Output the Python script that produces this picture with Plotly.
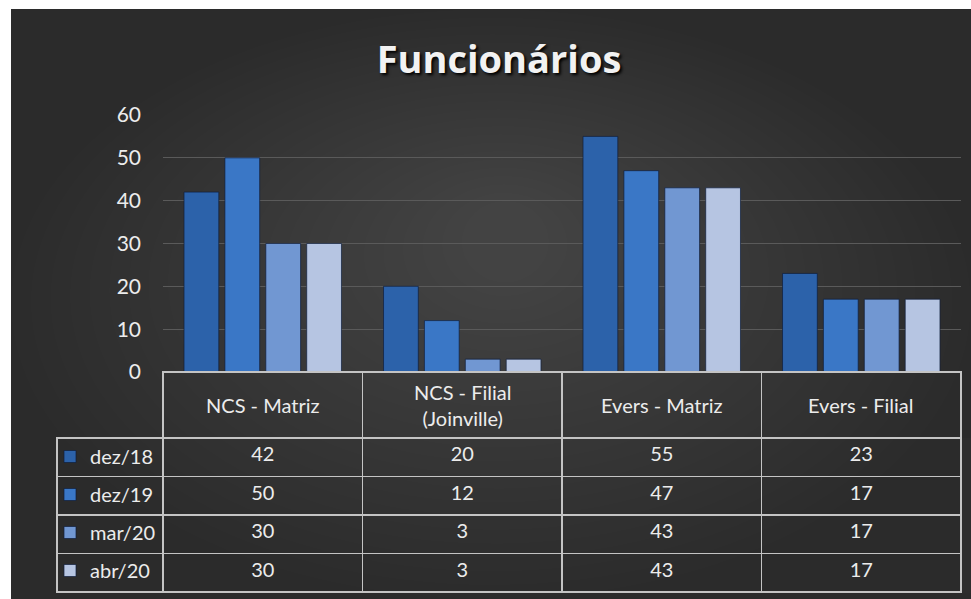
import plotly.graph_objects as go

# data
categories = ['NCS - Matriz', 'NCS - Filial<br>(Joinville)', 'Evers - Matriz', 'Evers - Filial']
periods = ['dez/18', 'dez/19', 'mar/20', 'abr/20']
dez18 = [42, 20, 55, 23]
dez19 = [50, 12, 47, 17]
mar20 = [30, 3, 43, 17]
abr20 = [30, 3, 43, 17]
series = [dez18, dez19, mar20, abr20]
bar_colors = ['#2c62aa', '#3a77c6', '#7197d2', '#b6c5e2']
y_ticks = [0, 10, 20, 30, 40, 50, 60]

W, H = 971, 599
FONT = 'Lato'
TXT = '#ececec'
LINE = '#c4c4c4'


def px(x):
    return x / W


def py(y):
    return 1 - y / H


fig = go.Figure()

for name, vals, col in zip(periods, series, bar_colors):
    fig.add_trace(go.Bar(
        x=categories, y=vals, name=name,
        marker=dict(color=col, line=dict(color='rgba(15,30,60,0.7)', width=1)),
        legendgroup=name,
    ))

# data table below the chart
table_cols = [['', '', '', '']] + [[s[i] for s in series] for i in range(len(categories))]
fig.add_trace(go.Table(
    domain=dict(x=[px(57), px(961)], y=[py(593), py(372)]),
    columnwidth=[106, 199.5, 199.5, 199.5, 199.5],
    header=dict(values=[''] * 5, height=66,
                fill_color='rgba(0,0,0,0)',
                line=dict(color=['rgba(0,0,0,0)'] + [LINE] * 4, width=1.5)),
    cells=dict(values=table_cols, height=38.5, align='center',
               fill_color='rgba(0,0,0,0)',
               font=dict(family=FONT, size=20, color=TXT),
               line=dict(color=LINE, width=1.5)),
))

# header labels of the table
for c in categories:
    fig.add_annotation(x=c, y=py(405), xref='x', yref='paper', text=c,
                       showarrow=False, yanchor='middle',
                       font=dict(family=FONT, size=20, color=TXT))

# background with a soft lighter centre
shapes = [dict(type='rect', xref='paper', yref='paper', x0=px(11), x1=1, y0=0, y1=py(9),
               fillcolor='#2b2b2b', line=dict(width=0), layer='below')]
n = 24
for k in range(n):
    f = k / n
    shapes.append(dict(type='circle', xref='paper', yref='paper',
                       x0=px(11 + 470 * f), x1=px(971 - 440 * f),
                       y0=py(599 - 330 * f), y1=py(9 + 200 * f),
                       fillcolor='rgba(255,255,255,0.0085)', line=dict(width=0), layer='below'))

fig.update_layout(
    width=W, height=H,
    margin=dict(l=0, r=0, t=0, b=0, autoexpand=False),
    paper_bgcolor='white',
    plot_bgcolor='rgba(0,0,0,0)',
    shapes=shapes,
    title=dict(text='Funcionários', x=px(499), y=py(60), xanchor='center', yanchor='middle',
               font=dict(family='Open Sans', size=38, color='#f2f2f2', weight='bold',
                         shadow='2px 2px 3px #000')),
    barmode='group', bargap=0.18, bargroupgap=0.15,
    xaxis=dict(domain=[px(163), px(961)], showticklabels=False, showgrid=False,
               zeroline=False, showline=False),
    yaxis=dict(domain=[py(372), py(115)], range=[0, 60], tickvals=y_ticks,
               showgrid=True, gridcolor='#5a5a5a', gridwidth=1, zeroline=False,
               ticklabelstandoff=21, automargin=False,
               tickfont=dict(family=FONT, size=21, color=TXT)),
    legend=dict(x=px(50), y=py(437), xanchor='left', yanchor='top',
                orientation='v', tracegroupgap=9, itemwidth=30,
                bgcolor='rgba(0,0,0,0)',
                font=dict(family=FONT, size=20, color=TXT)),
    showlegend=True,
)

# drop the default page margin so the figure sits at the window corner
fig.write_html('out.html', config={'displayModeBar': False},
               post_script="document.body.style.margin='0';")
